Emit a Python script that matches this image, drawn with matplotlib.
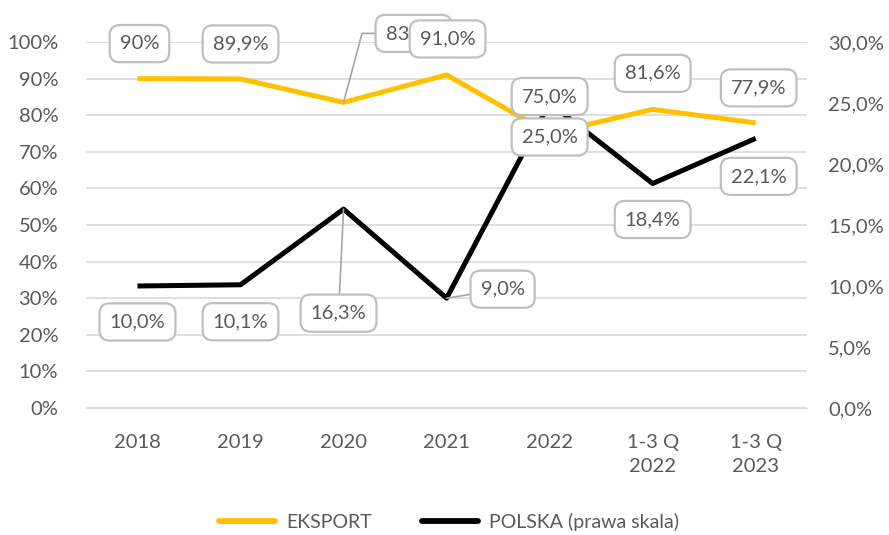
import matplotlib
matplotlib.use("Agg")
import matplotlib.pyplot as plt
from matplotlib.ticker import FuncFormatter
from matplotlib.lines import Line2D

plt.rcParams.update({"font.family": ["Lato", "DejaVu Sans"], "font.size": 14})

categories = ["2018", "2019", "2020", "2021", "2022", "1-3 Q\n2022", "1-3 Q\n2023"]
eksport = [90.0, 89.9, 83.5, 91.0, 75.0, 81.6, 77.9]          # left axis, %
eksport_labels = ["90%", "89,9%", "83,5%", "91,0%", "75,0%", "81,6%", "77,9%"]
polska = [10.0, 10.1, 16.3, 9.0, 25.0, 18.4, 22.1]            # right axis, %
polska_labels = ["10,0%", "10,1%", "16,3%", "9,0%", "25,0%", "18,4%", "22,1%"]

GOLD = "#FFC000"
TXT = "#595959"
GRID = "#D9D9D9"

fig = plt.figure(figsize=(8.89, 5.35), dpi=100)
ax = fig.add_axes([0.0967, 0.2374, 0.8113, 0.6841])
ax2 = ax.twinx()

x = list(range(len(categories)))
ax.plot(x, eksport, color=GOLD, lw=3.6, solid_capstyle="butt", zorder=3)
ax2.plot(x, polska, color="black", lw=3.6, solid_capstyle="butt", zorder=3)

ax.set_xlim(-0.5, 6.5)
ax.set_ylim(0, 100)
ax2.set_ylim(0, 30)
ax.set_yticks(range(0, 101, 10))
ax2.set_yticks(range(0, 31, 5))
ax.yaxis.set_major_formatter(FuncFormatter(lambda v, p: f"{v:.0f}%"))
ax2.yaxis.set_major_formatter(FuncFormatter(lambda v, p: f"{v:.1f}%".replace(".", ",")))
ax.set_xticks(x)
ax.set_xticklabels(categories)
ax.grid(axis="y", color=GRID, lw=1.2)
ax.set_axisbelow(True)

for a in (ax, ax2):
    for s in a.spines.values():
        s.set_visible(False)
    a.tick_params(length=0, colors=TXT, labelsize=14.5)
ax.spines["bottom"].set_visible(True)
ax.spines["bottom"].set_color(GRID)
ax.tick_params(axis="y", pad=20)
ax.tick_params(axis="x", pad=19)
ax2.tick_params(axis="y", pad=15)
for t in ax.get_xticklabels():
    t.set_linespacing(1.45)

box = dict(boxstyle="round,pad=0.5,rounding_size=0.5", fc="white", ec="#BFBFBF", lw=1.6)
leader = dict(arrowstyle="-", color="#A6A6A6", lw=1.2, shrinkA=0, shrinkB=0)

# label offsets in pixels (dx, dy)
e_off = [(2, 35), (0, 35), (70, 69), (1, 36), (0, 37), (0, 36), (3, 35)]
p_off = [(0, -36), (0, -37), (-5, -104), (56, 9), (0, -34), (0, -36), (3, -38)]

for i in range(len(eksport)):
    kw = {}
    if i == 2:
        kw["arrowprops"] = dict(leader, connectionstyle="angle,angleA=180,angleB=75")
    ax2.annotate(eksport_labels[i], xy=(x[i], eksport[i]), xycoords=ax.transData,
                 xytext=e_off[i], textcoords="offset pixels", ha="center", va="center",
                 color=TXT, fontsize=14.5, bbox=box, zorder=5, **kw)
for i in range(len(polska)):
    kw = {}
    if i in (2, 3):
        kw["arrowprops"] = dict(leader)
    ax2.annotate(polska_labels[i], xy=(x[i], polska[i]), xycoords=ax2.transData,
                 xytext=p_off[i], textcoords="offset pixels", ha="center", va="center",
                 color=TXT, fontsize=14.5, bbox=box, zorder=5, **kw)

handles = [Line2D([], [], color=GOLD, lw=4.2, solid_capstyle="round"),
           Line2D([], [], color="black", lw=4.2, solid_capstyle="round")]
fig.legend(handles, ["EKSPORT", "POLSKA (prawa skala)"], loc="center",
           bbox_to_anchor=(0.505, 0.025), ncol=2, frameon=False, fontsize=14,
           labelcolor=TXT, handlelength=2.9, columnspacing=2.6, handletextpad=0.55)

fig.savefig("out.png", dpi=100, facecolor="white")
